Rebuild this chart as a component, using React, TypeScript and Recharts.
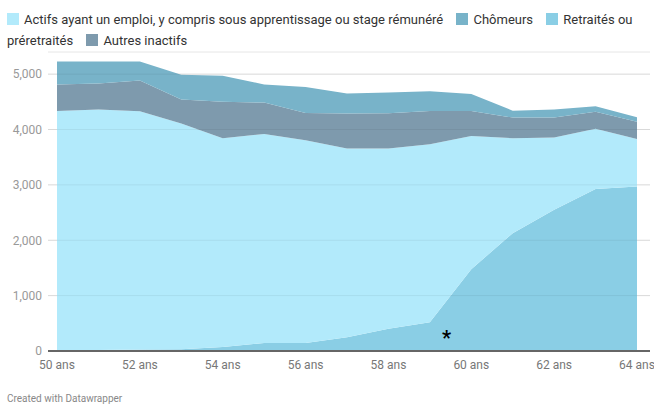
import { Fragment } from 'react'
import { AreaChart, Area, XAxis, YAxis, CartesianGrid, ReferenceLine, ReferenceDot } from 'recharts'

const ages = [50, 51, 52, 53, 54, 55, 56, 57, 58, 59, 60, 61, 62, 63, 64]
const retraites = [10, 20, 25, 30, 70, 145, 145, 250, 400, 519, 1477, 2128, 2550, 2924, 2971]
const actifs = [4326, 4340, 4305, 4077, 3773, 3775, 3661, 3405, 3255, 3216, 2408, 1715, 1305, 1088, 857]
const autresInactifs = [476, 470, 554, 433, 657, 567, 494, 635, 640, 600, 450, 372, 360, 308, 312]
const chomeurs = [416, 400, 346, 447, 470, 328, 470, 360, 375, 355, 305, 125, 145, 100, 80]

const xTicks = [50, 52, 54, 56, 58, 60, 62, 64]
const yTicks = [0, 1000, 2000, 3000, 4000, 5000]
const noteAge = 59.4
const noteValue = 240

const COLORS = {
    actifs: '#b2eafb',
    chomeurs: '#78b3c9',
    retraites: '#8acee5',
    autres: '#7e9aad',
}

// label split into words so the legend wraps like the original
const legendItems = [
    { words: ['Actifs ayant un emploi, y compris sous apprentissage ou stage rémunéré'], color: COLORS.actifs },
    { words: ['Chômeurs'], color: COLORS.chomeurs },
    { words: ['Retraités ou', 'préretraités'], color: COLORS.retraites },
    { words: ['Autres inactifs'], color: COLORS.autres },
]

const data = ages.map((age, i) => ({
    age,
    retraites: retraites[i],
    actifs: actifs[i],
    autres: autresInactifs[i],
    chomeurs: chomeurs[i],
}))

const fmt = (v: number) => v.toLocaleString('en-US')

export default function App() {
    return (
        <div style={{ position: 'absolute', left: 0, top: 0, width: 654, height: 407, background: '#fff', fontFamily: 'Roboto, sans-serif', overflow: 'hidden' }}>
            <div style={{ position: 'absolute', left: 0, top: 0 }}>
                <AreaChart width={654} height={407} data={data} margin={{ top: 52, right: 4, bottom: 26, left: 0 }}>
                    <CartesianGrid horizontal vertical={false} stroke="#e6e6e6" />
                    <XAxis
                        dataKey="age"
                        type="number"
                        domain={[50, 64]}
                        ticks={xTicks}
                        tickFormatter={(v: number) => `${v} ans`}
                        padding={{ left: 9, right: 13 }}
                        axisLine={false}
                        tickLine={false}
                        tickSize={0}
                        tickMargin={9}
                        height={30}
                        tick={{ fill: '#777', fontSize: 12 }}
                    />
                    <YAxis
                        domain={[0, 5400]}
                        ticks={yTicks}
                        tickFormatter={fmt}
                        axisLine={false}
                        tickLine={false}
                        tickSize={0}
                        tickMargin={6}
                        width={48}
                        tick={{ fill: '#999', fontSize: 12 }}
                    />
                    <Area dataKey="retraites" stackId="a" type="linear" fill={COLORS.retraites} fillOpacity={1} stroke="none" isAnimationActive={false} />
                    <Area dataKey="actifs" stackId="a" type="linear" fill={COLORS.actifs} fillOpacity={1} stroke="none" isAnimationActive={false} />
                    <Area dataKey="autres" stackId="a" type="linear" fill={COLORS.autres} fillOpacity={1} stroke="none" isAnimationActive={false} />
                    <Area dataKey="chomeurs" stackId="a" type="linear" fill={COLORS.chomeurs} fillOpacity={1} stroke="none" isAnimationActive={false} />
                    {yTicks.slice(1).map(t => (
                        <ReferenceLine key={t} y={t} stroke="rgba(0,0,0,0.06)" />
                    ))}
                    <ReferenceLine y={0} stroke="#666" strokeWidth={2} />
                    <ReferenceDot x={noteAge} y={noteValue} r={0} label={{ value: '*', fill: '#000', fontSize: 20, fontWeight: 700, position: 'center' }} />
                </AreaChart>
            </div>
            <div style={{ position: 'absolute', left: 7, top: 9, width: 645, fontSize: 13, lineHeight: '21px', color: '#333' }}>
                {legendItems.map((item, i) => (
                    <Fragment key={i}>
                        <span style={{ display: 'inline-block', width: 12, height: 12, background: item.color, verticalAlign: -1, marginRight: 5 }} />
                        {item.words.map((w, j) => (
                            <Fragment key={j}>
                                {j > 0 && ' '}
                                <span style={{ marginRight: j === item.words.length - 1 ? 10 : 0 }}>{w}</span>
                            </Fragment>
                        ))}
                        {' '}
                    </Fragment>
                ))}
            </div>
            <div style={{ position: 'absolute', left: 7, top: 393, fontSize: 10, color: '#888' }}>Created with Datawrapper</div>
        </div>
    )
}
